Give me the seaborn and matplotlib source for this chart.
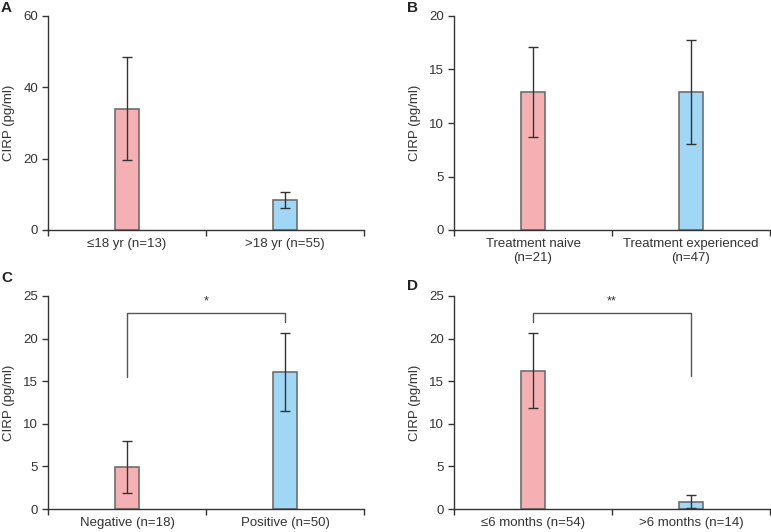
import numpy as np
import pandas as pd
import seaborn as sns
import matplotlib.pyplot as plt

# panel data: group labels, mean CIRP, error (half-width)
a_groups = ["≤18 yr (n=13)", ">18 yr (n=55)"]
a_means = [34.0, 8.4]
a_errs = [14.4, 2.3]

b_groups = ["Treatment naive\n(n=21)", "Treatment experienced\n(n=47)"]
b_means = [12.9, 12.9]
b_errs = [4.2, 4.9]

c_groups = ["Negative (n=18)", "Positive (n=50)"]
c_means = [4.9, 16.1]
c_errs = [3.05, 4.6]

d_groups = ["≤6 months (n=54)", ">6 months (n=14)"]
d_means = [16.2, 0.85]
d_errs = [4.4, 0.75]

sns.set_theme(style="white")
plt.rcParams['font.family'] = ['Liberation Sans', 'DejaVu Sans']

pink = "#F4B0B2"
blue = "#9FD7F5"
dark = "#333333"

fig = plt.figure(figsize=(7.71, 5.32), dpi=100)
W, H = 771, 532


def make_ax(left, top, right, bottom):
    return fig.add_axes([left / W, 1 - bottom / H, (right - left) / W, (bottom - top) / H])


def panel(ax, groups, means, errs, ymax, step, bracket=None):
    df = pd.DataFrame({"group": groups, "mean": means})
    sns.barplot(df, x="group", y="mean", hue="group", palette=[pink, blue], saturation=1,
                width=0.15, edgecolor="#6e6e6e", linewidth=1.2, legend=False, ax=ax)
    ax.errorbar(range(len(groups)), means, yerr=errs, fmt="none", ecolor=dark,
                elinewidth=1, capsize=3.5, capthick=1)
    ax.set_xlim(-0.5, 1.5)
    ax.set_ylim(0, ymax)
    ax.set_yticks(np.arange(0, ymax + 0.1, step))
    ax.set_xticks([-0.5, 0.5, 1.5], minor=True)
    ax.tick_params(axis="x", which="major", length=0, pad=6, labelsize=9.5, colors=dark)
    ax.tick_params(axis="x", which="minor", length=4, width=1, color=dark, direction="out", bottom=True)
    ax.tick_params(axis="y", length=4, width=1, color=dark, direction="out", left=True,
                   pad=3, labelsize=9.5, labelcolor=dark)
    ax.set_xlabel("")
    ax.set_ylabel("CIRP (pg/ml)", fontsize=9.5, color=dark, labelpad=6)
    sns.despine(ax=ax)
    for s in ["left", "bottom"]:
        ax.spines[s].set_color(dark)
        ax.spines[s].set_linewidth(1)
    if bracket is not None:
        yb, yl, yr, star = bracket
        ax.plot([0, 0, 1, 1], [yl, yb, yb, yr], color="#555555", lw=1)
        ax.text(0.5, yb + 0.6, star, ha="center", va="bottom", fontsize=9, color=dark)


axA = make_ax(48, 16, 364, 230)
axB = make_ax(454, 16, 770, 230)
axC = make_ax(48, 296, 364, 509)
axD = make_ax(454, 296, 770, 509)

panel(axA, a_groups, a_means, a_errs, 60, 20)
panel(axB, b_groups, b_means, b_errs, 20, 5)
panel(axC, c_groups, c_means, c_errs, 25, 5, bracket=(23.0, 15.5, 22.0, "*"))
panel(axD, d_groups, d_means, d_errs, 25, 5, bracket=(23.0, 22.0, 15.6, "**"))

# panel letters, placed in figure pixels
for letter, px, py in [("A", 1, 8), ("B", 407, 8), ("C", 1, 278), ("D", 407, 286)]:
    fig.text(px / W, 1 - py / H, letter, fontsize=11, fontweight="bold",
             ha="left", va="center", color="#222222")

fig.savefig("out.png", dpi=100)
